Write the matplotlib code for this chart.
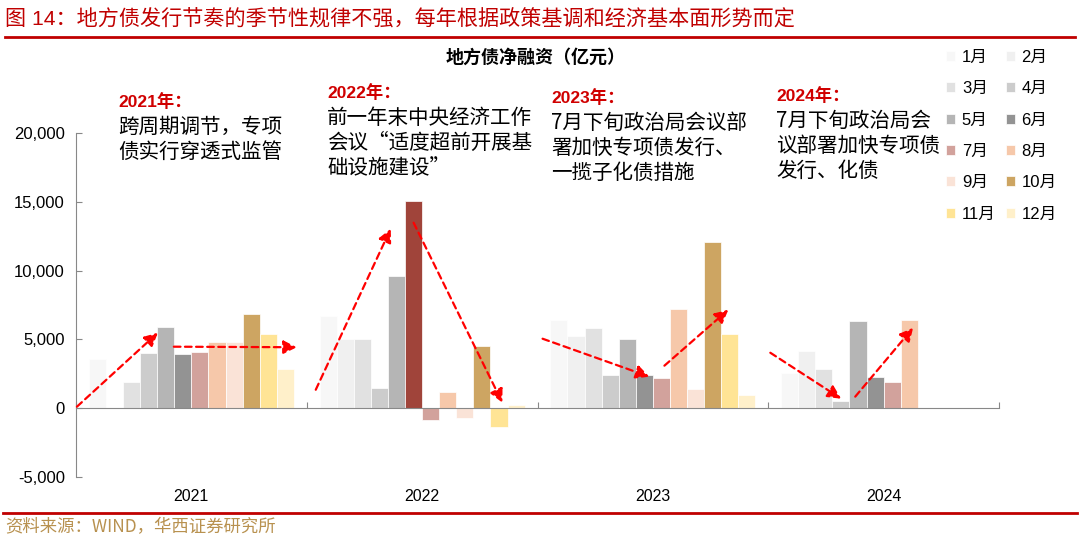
import numpy as np
import matplotlib
matplotlib.use('Agg')
import matplotlib.pyplot as plt
from matplotlib.lines import Line2D

plt.rcParams['font.family'] = ['Liberation Sans', 'Noto Sans CJK SC']
plt.rcParams['axes.unicode_minus'] = False

# data (亿元)
years = ['2021', '2022', '2023', '2024']
months = ['1月', '2月', '3月', '4月', '5月', '6月', '7月', '8月', '9月', '10月', '11月', '12月']
v2021 = [3590, 0, 1890, 3980, 5870, 3930, 4050, 4830, 4830, 6830, 5410, 2840]
v2022 = [6720, 5020, 5050, 1460, 9630, 15030, -850, 1210, -700, 4490, -1330, 220]
v2023 = [6410, 5220, 5830, 2430, 5050, 2380, 2210, 7180, 1430, 12060, 5360, 970]
v2024 = [2570, 4130, 2840, 510, 6360, 2260, 1890, 6380, np.nan, np.nan, np.nan, np.nan]
colors = ['#F7F7F7', '#F0F0F0', '#E1E1E1', '#CCCCCC', '#B5B5B5', '#939393',
          '#D2A29C', '#F6C8AA', '#FAE3D7', '#CDA562', '#FFE495', '#FFF0CA']
highlight = '#A0443A'  # 2022年6月

W, H = 1080, 544


def px(x, y):
    return x / W, 1 - y / H


fig = plt.figure(figsize=(W / 100, H / 100), dpi=100)
ax = fig.add_axes([76 / W, 1 - 477 / H, (999 - 76) / W, (477 - 133) / H])

data = np.array([v2021, v2022, v2023, v2024], dtype=float)
x = np.arange(len(years))
bw = 0.888 / 12
bars = []
for m in range(12):
    b = ax.bar(x - 0.444 + (m + 0.5) * bw, data[:, m], width=bw, color=colors[m],
               edgecolor='white', linewidth=0.5, label=months[m], zorder=2)
    bars.append(b)
bars[5].patches[1].set_facecolor(highlight)

ax.set_xlim(-0.5, 3.5)
ax.set_ylim(-5000, 20000)
ax.set_yticks(np.arange(-5000, 20001, 5000))
ax.set_yticklabels([f'{int(v):,}' for v in np.arange(-5000, 20001, 5000)], fontsize=12)
ax.tick_params(axis='y', direction='in', length=4, color='#888888', pad=8)
ax.spines['top'].set_visible(False)
ax.spines['right'].set_visible(False)
ax.spines['left'].set_color('#888888')
ax.spines['bottom'].set_position(('data', 0))
ax.spines['bottom'].set_color('#888888')
ax.set_xticks([-0.5, 0.5, 1.5, 2.5, 3.5])
ax.set_xticklabels([])
ax.tick_params(axis='x', direction='in', length=4, color='#888888')
for i, yr in enumerate(years):
    ax.text(i, -6450, yr, ha='center', va='center', fontsize=11.5, clip_on=False)

# arrows
arrows = [((-0.496, 110), (-0.145, 5490)),
          ((-0.076, 4470), (0.457, 4430)),
          ((0.539, 1340), (0.864, 13045)),
          ((0.963, 13480), (1.348, 400)),
          ((1.522, 5050), (1.985, 2290)),
          ((2.05, 3090), (2.327, 7160)),
          ((2.509, 4030), (2.816, 690)),
          ((2.877, 840), (3.128, 5850))]
for start, tip in arrows:
    ax.annotate('', xy=tip, xytext=start, zorder=5,
                arrowprops=dict(arrowstyle='-|>', linestyle=(0, (3, 2)), color='#FF0000',
                                lw=1.6, mutation_scale=20, shrinkA=0, shrinkB=0))

# legend, row-major order
order = [0, 2, 4, 6, 8, 10, 1, 3, 5, 7, 9, 11]
leg = ax.legend([bars[i] for i in order], [months[i] for i in order], ncol=2,
                loc='upper left', bbox_to_anchor=px(946, 50), bbox_transform=fig.transFigure,
                frameon=False, fontsize=12, handlelength=0.55, handleheight=0.55,
                handletextpad=0.4, columnspacing=0.6, labelspacing=0.98,
                borderpad=0, borderaxespad=0)

# header / footer
fig.text(*px(5, 18), '图 14：地方债发行节奏的季节性规律不强，每年根据政策基调和经济基本面形势而定',
         color='#C00000', fontsize=15.2, va='center', ha='left')
fig.add_artist(Line2D([5 / W, 1075 / W], [1 - 37 / H] * 2, color='#C00000', lw=2))
fig.add_artist(Line2D([3 / W, 1077 / W], [1 - 513 / H] * 2, color='#C00000', lw=2))
fig.text(*px(5, 527), '资料来源：WIND，华西证券研究所', color='#B8914F', fontsize=12.5,
         va='center', ha='left', family=['Noto Sans CJK SC'])
fig.text(*px(536, 57), '地方债净融资（亿元）', ha='center', va='center', fontsize=13,
         fontweight='bold', family=['Noto Sans CJK SC'])

# notes
notes = [(118, 102, '2021年：', ['跨周期调节，专项', '债实行穿透式监管']),
         (327, 93, '2022年：', ['前一年末中央经济工作', '会议“适度超前开展基', '础设施建设”']),
         (551, 98, '2023年：', ['7月下旬政治局会议部', '署加快专项债发行、', '一揽子化债措施']),
         (776, 96, '2024年：', ['7月下旬政治局会', '议部署加快专项债', '发行、化债'])]
for nx, ny, head, lines in notes:
    fig.text(*px(nx, ny), head, color='#D00000', fontsize=12.5, fontweight='bold',
             va='center', ha='left')
    for k, ln in enumerate(lines):
        fig.text(*px(nx, ny + 25 * (k + 1)), ln, fontsize=14.8, va='center', ha='left',
                 family=['Noto Sans CJK SC', 'DejaVu Sans'])

fig.savefig('out.png', dpi=100)
